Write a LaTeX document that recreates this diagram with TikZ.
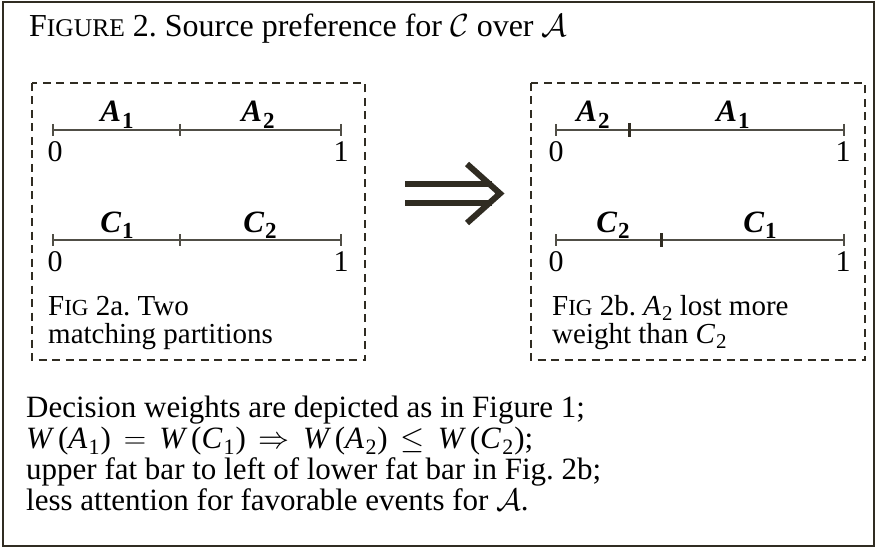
\RequirePackage{fix-cm}
\documentclass[tikz,border=0pt]{standalone}
\usepackage{amsmath,amssymb}
\usepackage{fontspec}
\setmainfont{Liberation Serif}
\frenchspacing
\definecolor{ink}{RGB}{48,44,34}
\definecolor{axis}{RGB}{80,78,70}
\newcommand{\bodyfs}{\fontsize{31}{36}\selectfont}
\newcommand{\titlefs}{\fontsize{32}{36}\selectfont}
\newcommand{\capfs}{\fontsize{29}{33}\selectfont}
\newcommand{\scA}[1]{{\fontsize{25.5}{26}\selectfont #1}}
\newcommand{\scB}[1]{{\fontsize{23}{26}\selectfont #1}}
% italic letter with subscript, all as text
\newcommand{\isub}[2]{\textit{#1}\kern0.04em\raisebox{-0.2em}{\fontsize{22}{22}\selectfont #2}}
\newcommand{\isubc}[2]{\textit{#1}\kern0.03em\raisebox{-0.2em}{\fontsize{21}{21}\selectfont #2}}
\newcommand{\bsubl}[2]{\textbf{\textit{#1}}\kern0.03em\raisebox{-0.22em}{\fontsize{23}{23}\selectfont\bfseries #2}}
\newcommand{\Wf}[2]{\textit{W}\kern0.12em(\isub{#1}{#2}\kern0.03em)}
\newcommand{\rel}[1]{\hspace{0.42em}$#1$\hspace{0.42em}}
\tikzset{
  frame/.style={draw=ink,line width=2.5pt},
  dbox/.style={draw=ink,line width=2.2pt,dash pattern=on 8pt off 5.5pt},
  axisline/.style={draw=axis,line width=1.1pt},
  thintick/.style={draw=axis,line width=1.1pt},
  fattick/.style={draw=ink,line width=3pt},
  txt/.style={inner sep=0pt,anchor=base west,font=\bodyfs},
  ttxt/.style={inner sep=0pt,anchor=base west,font=\titlefs},
  captxt/.style={inner sep=0pt,anchor=base west,font=\capfs},
  seg/.style={inner sep=0pt,anchor=base,font=\bodyfs},
  num/.style={inner sep=0pt,anchor=base,font=\fontsize{30}{34}\selectfont},
  bigarrow/.style={draw=ink,line width=6pt}
}
\begin{document}
\begin{tikzpicture}[x=1pt,y=-1pt]
\useasboundingbox (0,0) rectangle (877,548);
\draw[frame] (3,2) rectangle (874,546);
\node[ttxt] (title) at (29,37) {F\scA{IGURE} 2. Source preference for $\mathcal{C}$ over $\mathcal{A}$};
% left box
\draw[dbox] (32,83) rectangle (365,360);
\draw[axisline] (53,130) -- (341,130);
\draw[thintick] (53,124) -- (53,136) (180,124) -- (180,136) (341,124) -- (341,136);
\node[seg] (a1) at (117,122) {\bsubl{A}{1}};
\node[seg] (a2) at (258,122) {\bsubl{A}{2}};
\node[num] (z1) at (55,161) {0};
\node[num] (o1) at (341,161) {1};
\draw[axisline] (53,240) -- (341,240);
\draw[thintick] (53,234) -- (53,246) (180,234) -- (180,246) (341,234) -- (341,246);
\node[seg] (c1) at (117,232) {\bsubl{C}{1}};
\node[seg] (c2) at (260,232) {\bsubl{C}{2}};
\node[num] (z2) at (55,271) {0};
\node[num] (o2) at (341,271) {1};
\node[captxt] (capa1) at (48,315) {F\scB{IG} 2a. Two};
\node[captxt] (capa2) at (48,343) {matching partitions};
% arrow
\draw[bigarrow] (405,184) -- (492,184) (405,203) -- (492,203);
\draw[bigarrow,line join=miter] (467,164) -- (500,193.5) -- (467,223);
% right box
\draw[dbox] (531,83) rectangle (865,360);
\draw[axisline] (556,130) -- (844,130);
\draw[thintick] (556,124) -- (556,136) (844,124) -- (844,136);
\draw[fattick] (629,123) -- (629,137);
\node[seg] (b2) at (593,122) {\bsubl{A}{2}};
\node[seg] (b1) at (733,122) {\bsubl{A}{1}};
\node[num] (z3) at (556,161) {0};
\node[num] (o3) at (843,161) {1};
\draw[axisline] (556,240) -- (844,240);
\draw[thintick] (556,234) -- (556,246) (844,234) -- (844,246);
\draw[fattick] (661,233) -- (661,247);
\node[seg] (d2) at (613,232) {\bsubl{C}{2}};
\node[seg] (d1) at (760,232) {\bsubl{C}{1}};
\node[num] (z4) at (556,271) {0};
\node[num] (o4) at (843,271) {1};
\node[captxt] (capb1) at (552,315) {F\scB{IG} 2b. \isubc{A}{2} lost more};
\node[captxt] (capb2) at (552,343) {weight than \isubc{C}{2}};
% bottom text
\node[txt] (l1) at (26,417) {Decision weights are depicted as in Figure 1;};
\node[txt] (l2) at (26,448) {\Wf{A}{1}\rel{=}\Wf{C}{1}\rel{\Rightarrow}\Wf{A}{2}\rel{\leq}\Wf{C}{2};};
\node[txt] (l3) at (26,479) {upper fat bar to left of lower fat bar in Fig. 2b;};
\node[txt] (l4) at (26,510) {less attention for favorable events for $\mathcal{A}$.};
\end{tikzpicture}
\end{document}
